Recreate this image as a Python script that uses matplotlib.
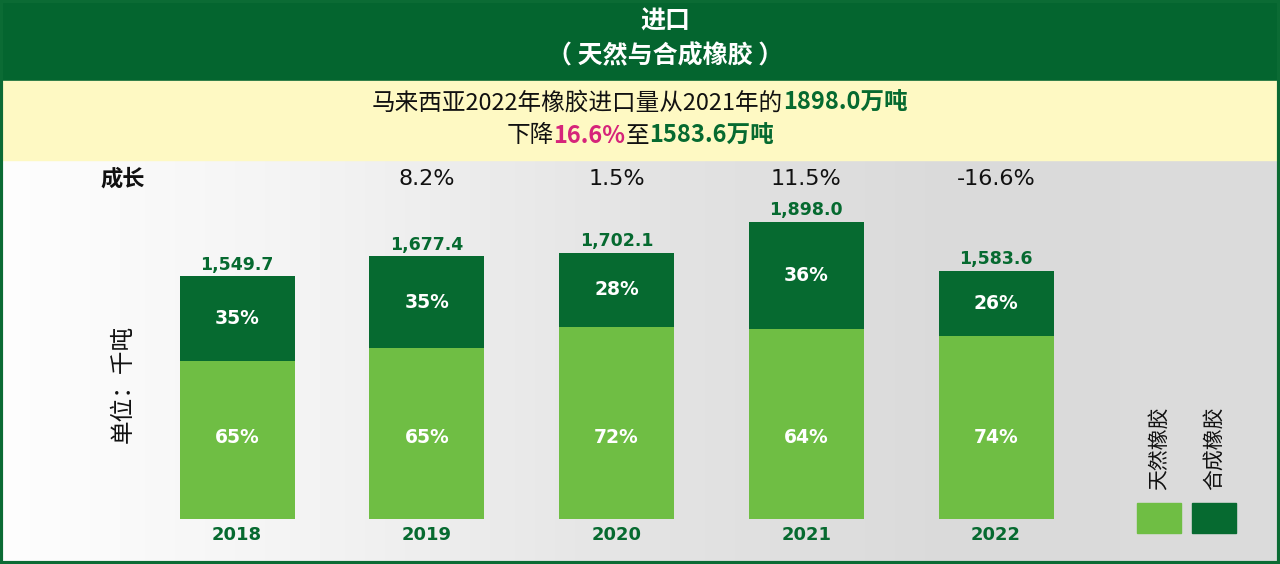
import matplotlib.pyplot as plt
import numpy as np
from matplotlib.patches import Rectangle

plt.rcParams['font.family'] = ['Noto Sans CJK SC', 'DejaVu Sans']

years = ["2018", "2019", "2020", "2021", "2022"]
totals = [1549.7, 1677.4, 1702.1, 1898.0, 1583.6]
natural_pct = [65, 65, 72, 64, 74]
synthetic_pct = [35, 35, 28, 36, 26]
growth = ["", "8.2%", "1.5%", "11.5%", "-16.6%"]
legend_labels = ["天然橡胶", "合成橡胶"]

LIGHT = "#6fbe44"
DARK = "#066a30"
HEADER = "#04652f"
YELLOW = "#fef9c3"
MAGENTA = "#d6247a"

W, H = 1280, 564
fig = plt.figure(figsize=(W / 100, H / 100), dpi=100)

# background bands
fig.patches.append(Rectangle((0, 1 - 81 / H), 1, 81 / H, transform=fig.transFigure,
                             color=HEADER, zorder=0))
fig.patches.append(Rectangle((0, 1 - 160 / H), 1, 79 / H, transform=fig.transFigure,
                             color=YELLOW, zorder=0))

bg = fig.add_axes([0, 0, 1, 1 - 160 / H], zorder=0)
grad = np.linspace(0, 1, 256).reshape(1, -1)
bg.imshow(grad, aspect="auto", cmap=plt.matplotlib.colors.LinearSegmentedColormap.from_list(
    "g", ["#fefefe", "#f3f3f3", "#e4e4e4", "#dadada", "#dcdcdc"]), extent=[0, 1, 0, 1])
bg.set_axis_off()

# title
fig.text(0.52, 1 - 22 / H, "进口", color="white", fontsize=18, fontweight="bold",
         ha="center", va="center")
fig.text(0.52, 1 - 56 / H, "（ 天然与合成橡胶 ）", color="white", fontsize=18,
         fontweight="bold", ha="center", va="center")


def draw_runs(y, runs, fontsize):
    renderer = fig.canvas.get_renderer()
    items = []
    total = 0
    for s, color, weight in runs:
        t = fig.text(0, y, s, color=color, fontsize=fontsize, fontweight=weight,
                     ha="left", va="center")
        w = t.get_window_extent(renderer).width
        items.append((t, w))
        total += w
    x = (W - total) / 2
    for t, w in items:
        t.set_x(x / W)
        x += w


draw_runs(1 - 103 / H, [("马来西亚2022年橡胶进口量从2021年的", "#111111", "normal"),
                        ("1898.0万吨", DARK, "bold")], 17)
draw_runs(1 - 136 / H, [("下降", "#111111", "normal"), ("16.6%", MAGENTA, "bold"),
                        ("至", "#111111", "normal"), ("1583.6万吨", DARK, "bold")], 17)

# main chart
ax = fig.add_axes([0, 45 / H, 1, 359 / H], zorder=1)
ax.patch.set_alpha(0)
scale = 0.1565
step = 189.75
ax.set_xlim(-237 / step, (W - 237) / step)
ax.set_ylim(0, 359 / scale)
ax.set_axis_off()

x = np.arange(len(years))
tot = np.array(totals)
nat = tot * np.array(natural_pct) / 100
syn = tot * np.array(synthetic_pct) / 100
ax.bar(x, nat, width=115 / step, color=LIGHT)
ax.bar(x, syn, bottom=nat, width=115 / step, color=DARK)

for i in range(len(years)):
    ax.text(x[i], tot[i] + 75, f"{totals[i]:,.1f}", color=DARK, fontsize=12.5,
            fontweight="bold", ha="center", va="center", family="DejaVu Sans")
    ax.text(x[i], 520, f"{natural_pct[i]}%", color="white", fontsize=13.5,
            fontweight="bold", ha="center", va="center", family="DejaVu Sans")
    ax.text(x[i], nat[i] + syn[i] / 2, f"{synthetic_pct[i]}%", color="white", fontsize=13.5,
            fontweight="bold", ha="center", va="center", family="DejaVu Sans")
    ax.text(x[i], -100, years[i], color=DARK, fontsize=13, fontweight="bold",
            ha="center", va="center", family="DejaVu Sans", clip_on=False)
    if growth[i]:
        ax.text(x[i], 2170, growth[i], color="#111111", fontsize=16,
                ha="center", va="center", family="DejaVu Sans")

ax.text(-0.6, 2170, "成长", color="#111111", fontsize=16, fontweight="bold",
        ha="center", va="center")
ax.text(-0.6, 860, "单位：千吨", color="#111111", fontsize=17, rotation=90,
        ha="center", va="center")

# legend
for j, (lab, col) in enumerate(zip(legend_labels, [LIGHT, DARK])):
    x0 = 1137 + j * 55
    fig.patches.append(Rectangle((x0 / W, 1 - 533 / H), 44 / W, 30 / H,
                                 transform=fig.transFigure, color=col, zorder=2))
    fig.text((x0 + 22) / W, 1 - 448 / H, lab, color="#111111", fontsize=15, rotation=90,
             ha="center", va="center")

# outer border
fig.patches.append(Rectangle((0.001, 0.002), 0.998, 0.996, transform=fig.transFigure,
                             fill=False, edgecolor="#0b6b34", linewidth=3, zorder=5))

fig.savefig("out.png", dpi=100)
